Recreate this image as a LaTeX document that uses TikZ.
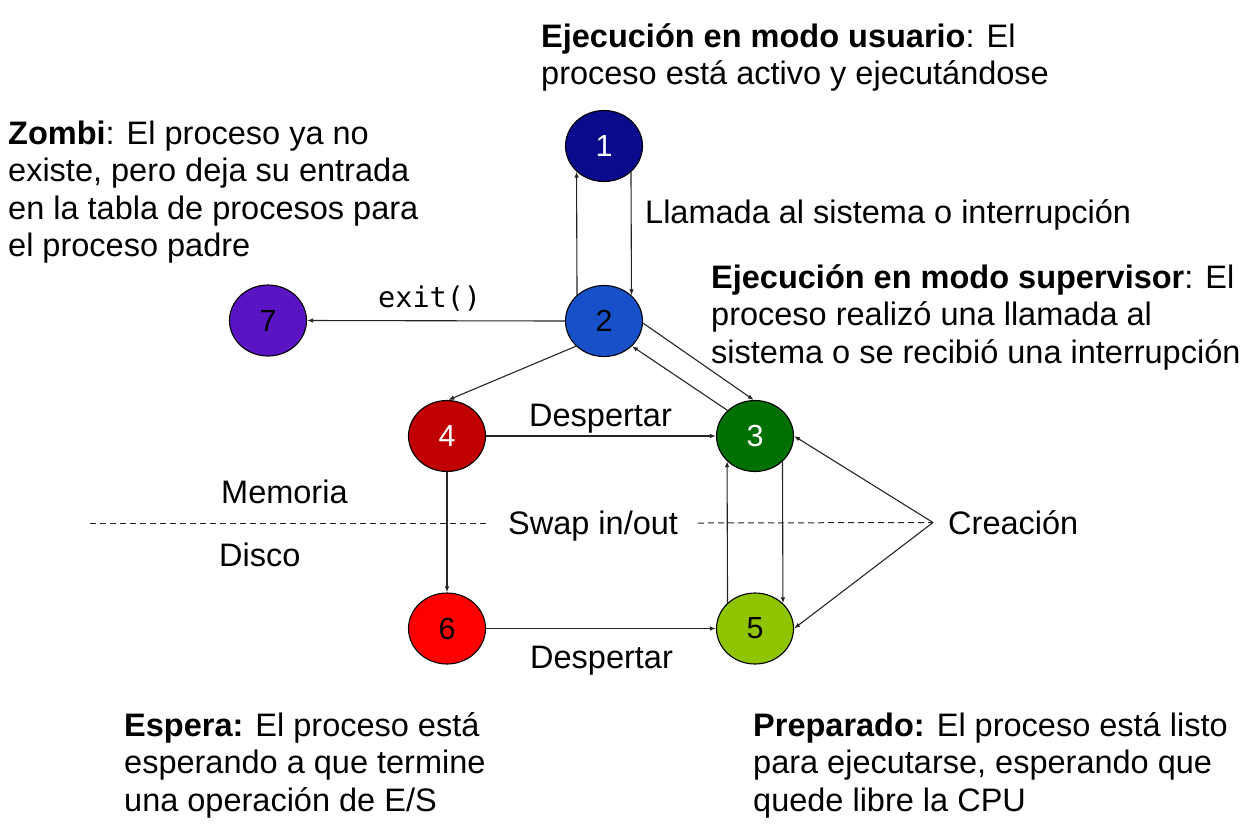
\documentclass[tikz,border=0pt]{standalone}
\usepackage{fontspec}
\setmainfont{Liberation Sans}
\newfontfamily\codefont{DejaVu Sans Mono}
\usetikzlibrary{shapes.geometric,arrows.meta}
\definecolor{cone}{RGB}{10,10,140}
\definecolor{ctwo}{RGB}{23,80,200}
\definecolor{cthree}{RGB}{0,112,0}
\definecolor{cfour}{RGB}{192,0,0}
\definecolor{cfive}{RGB}{143,196,0}
\definecolor{csix}{RGB}{255,0,0}
\definecolor{cseven}{RGB}{90,20,196}
\begin{document}
\begin{tikzpicture}[x=1pt,y=-1pt,
  proc/.style={ellipse,draw=black,line width=1.1pt,minimum width=77pt,minimum height=71pt,inner sep=0pt,
    font=\fontsize{30.5}{34}\selectfont},
  txt/.style={anchor=base west,inner sep=0pt,font=\fontsize{32.5}{37}\selectfont},
  conn/.style={draw=black!85,line width=1.1pt,-{Latex[length=6pt,width=4.5pt]}},
  dline/.style={draw=black!85,line width=1pt,dash pattern=on 6pt off 4pt}
]
\useasboundingbox[fill=white] (0,0) rectangle (1252,823);

% states
\node[proc,fill=cone,text=white] (n1) at (604,146) {1};
\node[proc,fill=ctwo] (n2) at (604,321) {2};
\node[proc,fill=cthree,text=white] (n3) at (755,436) {3};
\node[proc,fill=cfour,text=white] (n4) at (447,436) {4};
\node[proc,fill=cfive] (n5) at (755,628.5) {5};
\node[proc,fill=csix] (n6) at (447,628.5) {6};
\node[proc,fill=cseven] (n7) at (268,320.5) {7};

% transitions
\draw[conn] (n2.136.9) -- (n1.223.1);
\draw[conn] (n1.316.9) -- (n2.43.1);
\draw[conn] (n2.west) -- (n7.east);
\draw[conn] (n2.-3) -- (n3.92);
\draw[conn] (n3.137) -- (n2.318);
\draw[conn] (n2.222) -- (n4.88);
\draw[conn] (n4.east) -- (n3.west);
\draw[conn] (n4.south) -- (n6.north);
\draw[conn] (n6.east) -- (n5.west);
\draw[conn] (n3.317.7) -- (n5.42.3);
\draw[conn] (n5.137.7) -- (n3.222.3);

% creation
\coordinate (apex) at (933,522.5);
\draw[conn] (apex) -- (n3.east);
\draw[conn] (apex) -- (n5.east);

% memory / disk divider
\coordinate (dA) at (90,523);
\coordinate (dB) at (490,523);
\coordinate (dC) at (698,523);
\draw[dline] (dA) -- (dB);
\draw[dline] (dC) -- (apex);

% labels
\node[txt] (tA1) at (541,47) {\bfseries Ejecución en modo usuario\mdseries: El};
\node[txt] (tA2) at (541,84.5) {proceso está activo y ejecutándose};

\node[txt] (tZ1) at (8,144) {\bfseries Zombi\mdseries: El proceso ya no};
\node[txt] (tZ2) at (8,181.5) {existe, pero deja su entrada};
\node[txt] (tZ3) at (8,219) {en la tabla de procesos para};
\node[txt] (tZ4) at (8,256.5) {el proceso padre};

\node[txt] (tL) at (645,223) {Llamada al sistema o interrupción};

\node[txt] (tS1) at (711,288) {\bfseries Ejecución en modo supervisor\mdseries: El};
\node[txt] (tS2) at (711,325.5) {proceso realizó una llamada al};
\node[txt] (tS3) at (711,363) {sistema o se recibió una interrupción};

\node[anchor=base west,inner sep=0pt,font=\codefont\fontsize{28.5}{32}\selectfont] (tExit) at (378,307) {exit()};

\node[txt] (tD1) at (529,426) {Despertar};
\node[txt] (tD2) at (530,668) {Despertar};
\node[txt] (tMem) at (221,503) {Memoria};
\node[txt] (tDis) at (219,566) {Disco};
\node[txt] (tSw) at (508,534) {Swap in/out};
\node[txt] (tCr) at (948,534) {Creación};

\node[txt] (tE1) at (124,736) {\bfseries Espera:\mdseries{} El proceso está};
\node[txt] (tE2) at (124,773.5) {esperando a que termine};
\node[txt] (tE3) at (124,811) {una operación de E/S};

\node[txt] (tP1) at (753,736) {\bfseries Preparado:\mdseries{} El proceso está listo};
\node[txt] (tP2) at (753,773.5) {para ejecutarse, esperando que};
\node[txt] (tP3) at (753,811) {quede libre la CPU};
\end{tikzpicture}
\end{document}
